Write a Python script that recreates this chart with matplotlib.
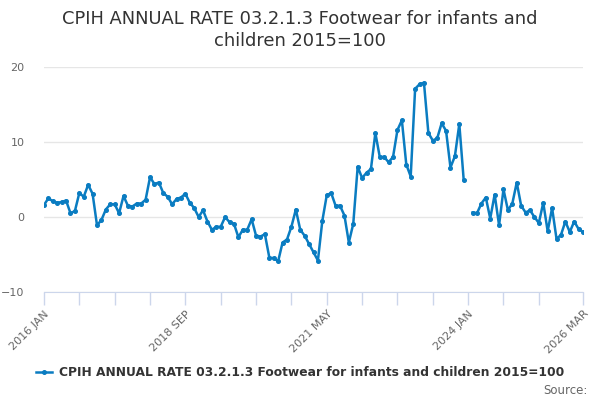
import numpy as np
import matplotlib.pyplot as plt

# monthly values, 2016 JAN .. 2026 MAR (Jan 2024 missing)
values = [
    1.6, 2.5, 2.1, 1.9, 2.0, 2.2, 0.5, 0.8, 3.2, 2.7, 4.3, 3.1,
    -1.1, -0.4, 1.0, 1.7, 1.7, 0.5, 2.8, 1.5, 1.4, 1.8, 1.8, 2.3,
    5.3, 4.4, 4.6, 3.2, 2.7, 1.7, 2.4, 2.6, 3.1, 1.9, 1.2, 0.0,
    0.9, -0.6, -1.7, -1.3, -1.3, 0.0, -0.7, -0.9, -2.7, -1.7, -1.7, -0.3,
    -2.5, -2.6, -2.3, -5.4, -5.5, -5.9, -3.4, -3.0, -1.3, 1.0, -1.7, -2.5,
    -3.6, -4.7, -5.8, -0.5, 2.9, 3.2, 1.5, 1.5, 0.2, -3.4, -0.9, 6.7,
    5.2, 5.9, 6.4, 11.2, 8.0, 8.0, 7.3, 8.0, 11.6, 12.9, 7.0, 5.4,
    17.1, 17.7, 17.9, 11.2, 10.2, 10.5, 12.5, 11.5, 6.6, 8.1, 12.4, 4.9,
    np.nan, 0.6, 0.5, 1.8, 2.6, -0.2, 3.0, -1.1, 3.7, 0.9, 1.8, 4.6,
    1.5, 0.6, 0.9, 0.0, -0.8, 1.9, -1.9, 1.2, -2.9, -2.4, -0.6, -2.0,
    -0.6, -1.6, -2.0,
]
tick_pos = [0, 8, 16, 24, 32, 40, 48, 56, 64, 72, 80, 88, 96, 104, 112, 122]
tick_labels = {0: "2016 JAN", 32: "2018 SEP", 64: "2021 MAY", 96: "2024 JAN", 122: "2026 MAR"}
y_ticks = [-10, 0, 10, 20]

title = "CPIH ANNUAL RATE 03.2.1.3 Footwear for infants and children 2015=100"
blue = "#0a7cc1"

fig = plt.figure(figsize=(6, 4), dpi=100)
ax = fig.add_axes([0.0733, 0.27, 0.8984, 0.5625])

x = np.arange(len(values))
ax.plot(x, values, color=blue, lw=1.8, marker="o", ms=2.6, label=title)

ax.set_xlim(0, 122)
ax.set_ylim(-10, 20)
ax.set_yticks(y_ticks)
ax.set_xticks(tick_pos)
ax.set_xticklabels([tick_labels.get(p, "") for p in tick_pos],
                   rotation=45, ha="right", rotation_mode="anchor",
                   fontsize=8, color="#666666")
ax.tick_params(axis="x", length=9, color="#ccd6eb", width=1, pad=3)
ax.tick_params(axis="y", length=0, labelsize=8, labelcolor="#666666", pad=14)
ax.grid(axis="y", color="#e6e6e6", lw=1)
ax.set_axisbelow(True)
for s in ["top", "right", "left"]:
    ax.spines[s].set_visible(False)
ax.spines["bottom"].set_color("#ccd6eb")

fig.text(0.5, 0.925, "CPIH ANNUAL RATE 03.2.1.3 Footwear for infants and\nchildren 2015=100",
         ha="center", va="center", fontsize=12.9, color="#333333", linespacing=1.25)

leg = fig.legend(loc="center", bbox_to_anchor=(0.5, 0.068), frameon=False,
                 handlelength=1.3, handletextpad=0.6,
                 prop={"size": 8.8, "weight": "bold"})
for t in leg.get_texts():
    t.set_color("#333333")

fig.text(0.98, 0.025, "Source:", ha="right", va="center", fontsize=8.5, color="#666666")

plt.savefig("out.png")
